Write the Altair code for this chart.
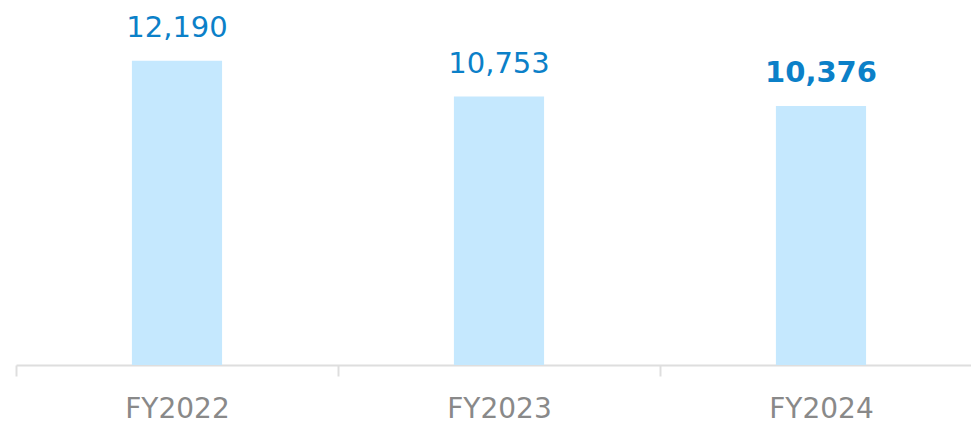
import altair as alt
import pandas as pd

years = ["FY2022", "FY2023", "FY2024"]
values = [12190, 10753, 10376]
labels = ["12,190", "10,753", "10,376"]
bold = ["normal", "normal", "bold"]

df = pd.DataFrame({"year": years, "value": values, "label": labels, "weight": bold})

xscale = alt.Scale(paddingInner=0, paddingOuter=0, range=[0, 966])
x = alt.X("year:N", sort=years, title=None, scale=xscale,
          axis=alt.Axis(labelAngle=0, labelFontSize=28, labelColor="#898989",
                        labelFont="DejaVu Sans", labelPadding=41, labelBaseline="alphabetic",
                        domainColor="#dedede", domainWidth=2,
                        tickColor="#dedede", tickWidth=2, tickSize=11,
                        tickBand="extent"))
y = alt.Y("value:Q", scale=alt.Scale(domain=[0, 14300], nice=False), axis=None)

bars = alt.Chart(df).mark_bar(color="#c5e8fe", width=alt.RelativeBandSize(0.28)).encode(x=x, y=y)

txt_normal = alt.Chart(df[df.weight == "normal"]).mark_text(
    dy=-24, baseline="alphabetic", fontSize=29, font="DejaVu Sans", color="#0b80c8"
).encode(x=alt.X("year:N", sort=years, scale=xscale), y=y, text="label:N")

txt_bold = alt.Chart(df[df.weight == "bold"]).mark_text(
    dy=-24, baseline="alphabetic", fontSize=29, font="DejaVu Sans", fontWeight="bold", color="#0b80c8"
).encode(x=alt.X("year:N", sort=years, scale=xscale), y=y, text="label:N")

chart = alt.layer(bars, txt_normal, txt_bold).properties(
    width=955, height=357,
    padding={"left": 8, "top": 0, "right": 0, "bottom": 59},
    autosize=alt.AutoSizeParams(type="none"),
).configure_view(stroke=None)

chart.save("out.html", embed_options={"renderer": "svg", "actions": False})
